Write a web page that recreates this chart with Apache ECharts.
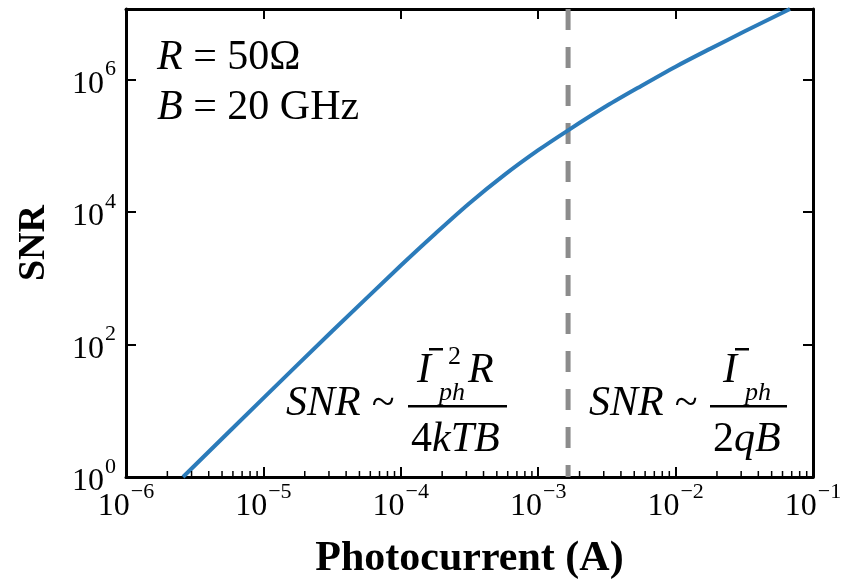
<!DOCTYPE html>
<html>
<head>
<meta charset="utf-8">
<script src="https://cdn.jsdelivr.net/npm/echarts@6/dist/echarts.min.js"></script>
<style>
  html, body { margin: 0; padding: 0; background: #fff; }
  #chart { width: 856px; height: 585px; }
</style>
</head>
<body>
<div id="chart"></div>
<script>
// photocurrent (A) and SNR
const current = [2.6e-6, 1e-5, 3.16e-5, 1e-4, 1.78e-4, 3.16e-4, 5.62e-4, 1e-3, 1.65e-3, 3.16e-3, 5.62e-3, 1e-2, 1.78e-2, 3.16e-2, 6.8e-2]
const snr = [1.0, 15.5, 158, 1550, 4680, 1.35e4, 3.55e4, 8.51e4, 1.70e5, 3.98e5, 7.94e5, 1.55e6, 2.88e6, 5.25e6, 1.15e7]

// thermal / shot noise crossover marker
const dividerX = 1.65e-3

const xMin = 1e-6
const xMax = 1e-1
const yMin = 1
const yMax = 1.15e7

// minor tick positions on the bottom axis
const decades = [1e-6, 1e-5, 1e-4, 1e-3, 1e-2]
const mults = [2, 3, 4, 5, 6, 7, 8, 9]
const minorTicks = []
decades.forEach(d => mults.forEach(m => minorTicks.push([d * m, yMin])))

const serif = 'Liberation Serif'

const expLabel = v => {
  const e = Math.round(Math.log10(v))
  const s = e < 0 ? '\u2212' + Math.abs(e) : String(e)
  return '{b|10}{s|' + s + '}'
}

const labelRich = {
  b: { fontFamily: serif, fontSize: 32, color: '#000', lineHeight: 42, verticalAlign: 'bottom' },
  s: { fontFamily: serif, fontSize: 22, color: '#000', lineHeight: 12, verticalAlign: 'top', padding: [0, 0, 0, 1] }
}

const chartDom = document.getElementById('chart')
const chart = echarts.init(chartDom, null, { renderer: 'canvas' })

const axisLine = { show: true, onZero: false, lineStyle: { color: '#000', width: 3 } }
const majorTick = { show: true, inside: true, length: 10, lineStyle: { color: '#000', width: 2 } }

const text = (x, y, t, opts) => ({
  type: 'text',
  x: x,
  y: y,
  style: Object.assign({
    text: t,
    fontFamily: serif,
    fontSize: 42,
    fill: '#000',
    verticalAlign: 'middle'
  }, opts || {})
})

const bar = (x, y, w, h) => ({ type: 'rect', shape: { x: x, y: y, width: w, height: h }, style: { fill: '#000' } })

const italic = { i: { fontFamily: serif, fontStyle: 'italic', fontSize: 42 } }

const option = {
  backgroundColor: '#fff',
  animation: false,
  grid: { left: 126, right: 43, top: 9, bottom: 103, containLabel: false },
  xAxis: [
    {
      type: 'log',
      logBase: 10,
      min: xMin,
      max: xMax,
      position: 'bottom',
      axisLine: axisLine,
      axisTick: majorTick,
      splitLine: { show: false },
      axisLabel: { margin: 4, formatter: expLabel, rich: labelRich },
      name: 'Photocurrent (A)',
      nameLocation: 'middle',
      nameGap: 61,
      nameTextStyle: { fontFamily: serif, fontSize: 42, fontWeight: 'bold', color: '#000' }
    },
    {
      type: 'log',
      logBase: 10,
      min: xMin,
      max: xMax,
      position: 'top',
      axisLine: axisLine,
      axisTick: majorTick,
      splitLine: { show: false },
      axisLabel: { show: false }
    }
  ],
  yAxis: [
    {
      type: 'log',
      logBase: 10,
      min: yMin,
      max: yMax,
      interval: 2,
      position: 'left',
      axisLine: axisLine,
      axisTick: majorTick,
      splitLine: { show: false },
      axisLabel: { margin: 10, formatter: expLabel, rich: labelRich, showMaxLabel: false },
      name: 'SNR',
      nameLocation: 'middle',
      nameGap: 73,
      nameTextStyle: { fontFamily: serif, fontSize: 38, fontWeight: 'bold', color: '#000' }
    },
    {
      type: 'log',
      logBase: 10,
      min: yMin,
      max: yMax,
      interval: 2,
      position: 'right',
      axisLine: axisLine,
      axisTick: majorTick,
      splitLine: { show: false },
      axisLabel: { show: false }
    }
  ],
  series: [
    {
      type: 'line',
      data: [[dividerX, yMax], [dividerX, yMin]],
      showSymbol: false,
      lineStyle: { color: '#8c8c8c', width: 5, type: [21, 17] },
      z: 1,
      silent: true
    },
    {
      type: 'line',
      data: current.map((c, i) => [c, snr[i]]),
      smooth: 0.3,
      showSymbol: false,
      clip: true,
      lineStyle: { color: '#2b7bba', width: 4 },
      z: 3
    },
    {
      type: 'custom',
      data: minorTicks,
      renderItem: (params, api) => {
        const p = api.coord([api.value(0), api.value(1)])
        return {
          type: 'line',
          shape: { x1: p[0], y1: p[1], x2: p[0], y2: p[1] - 6 },
          style: { stroke: '#000', lineWidth: 1.5 }
        }
      },
      silent: true,
      z: 4
    }
  ],
  graphic: [
    // parameters
    text(157, 58, '{i|R} = 50\u03A9', { rich: italic }),
    text(157, 108, '{i|B} = 20 GHz', { rich: italic }),
    // thermal-limited formula
    text(286, 404, 'SNR ~', { fontStyle: 'italic' }),
    text(417, 371, 'I', { fontStyle: 'italic' }),
    bar(429, 348, 14, 2.5),
    text(448, 357, '2', { fontSize: 26 }),
    text(439, 393, 'ph', { fontStyle: 'italic', fontSize: 26 }),
    text(468, 371, 'R', { fontStyle: 'italic' }),
    bar(408, 405, 99, 2.5),
    text(411, 440, '4', {}),
    text(432, 440, 'kTB', { fontStyle: 'italic' }),
    // shot-limited formula
    text(589, 404, 'SNR ~', { fontStyle: 'italic' }),
    text(723, 371, 'I', { fontStyle: 'italic' }),
    bar(735, 348, 14, 2.5),
    text(745, 393, 'ph', { fontStyle: 'italic', fontSize: 26 }),
    bar(710, 405, 77, 2.5),
    text(713, 440, '2', {}),
    text(734, 440, 'qB', { fontStyle: 'italic' })
  ]
}

chart.setOption(option)
</script>
</body>
</html>
